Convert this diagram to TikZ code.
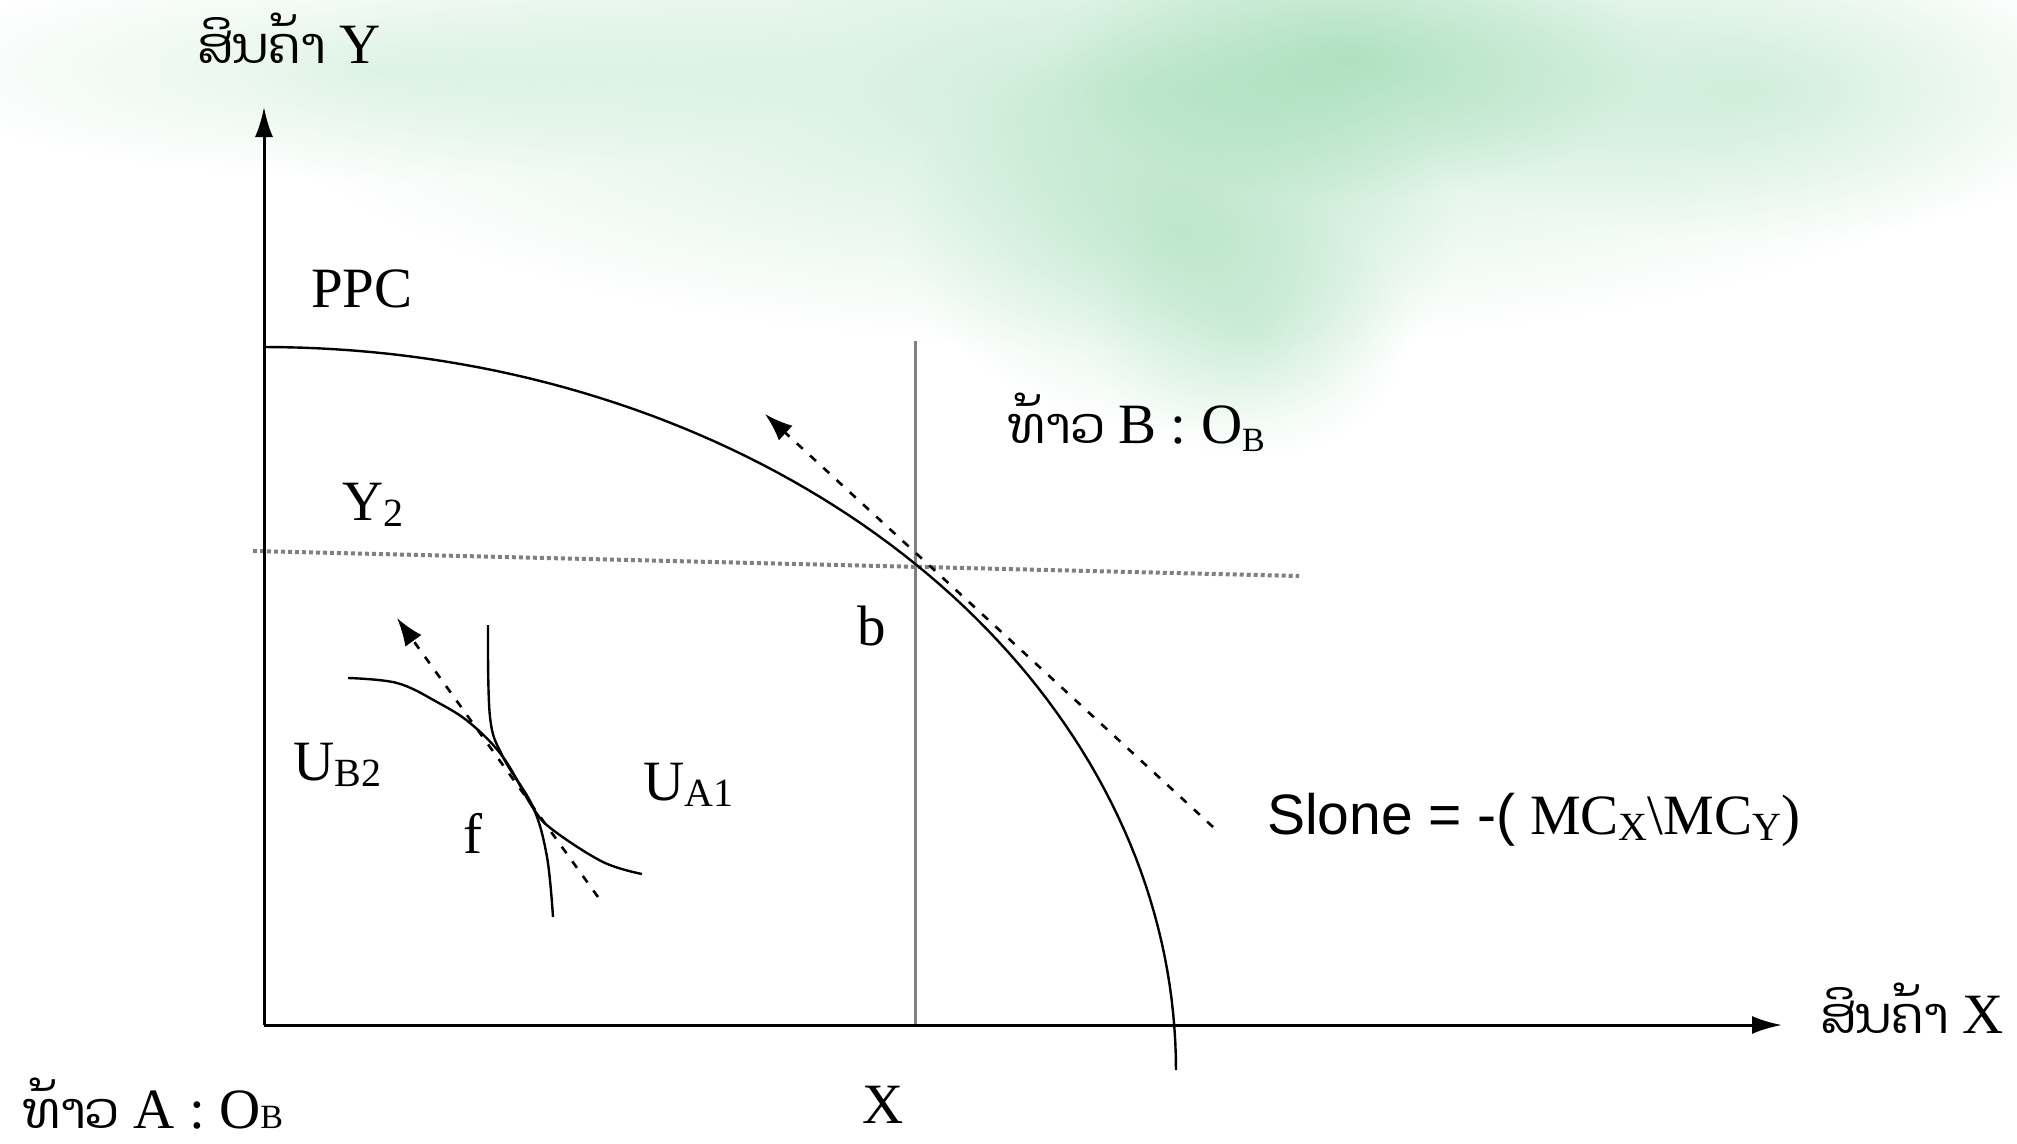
\documentclass[tikz,border=0pt]{standalone}
\usepackage{fontspec}
\setmainfont{Liberation Serif}
\newfontfamily\laofont[Script=Lao,Scale=0.88]{Dhyana}
\newfontfamily\sansfnt{Liberation Sans}
\usetikzlibrary{arrows.meta,fadings}
\tikzfading[name=blobfade, inner color=transparent!0, outer color=transparent!100]
\definecolor{wash}{RGB}{140,212,165}
\definecolor{guide}{RGB}{128,128,128}
\newcommand{\sbs}[1]{\raisebox{-6pt}{\fontsize{40}{40}\selectfont #1}}
\newcommand{\sbo}[1]{{\fontsize{34}{34}\selectfont #1}}
\begin{document}
\begin{tikzpicture}[x=1pt,y=-1pt,
  lbl/.style={inner sep=0pt, anchor=base west, font=\fontsize{57}{60}\selectfont},
  axis/.style={line width=3pt, -{Latex[length=30pt,width=18pt]}},
  curve/.style={line width=2.4pt},
  guideline/.style={guide, line width=3pt},
  dotline/.style={guide, line width=4pt, dash pattern=on 4pt off 3pt},
  dasharrow/.style={line width=2.6pt, dash pattern=on 8pt off 10pt, -{Latex[length=28pt,width=20pt]}}]
\useasboundingbox (0,0) rectangle (2017,1143);
% background wash
\fill[wash, opacity=0.45, path fading=blobfade] (1150,90) ellipse [x radius=900pt, y radius=260pt];
\fill[wash, opacity=0.55, path fading=blobfade] (1350,60) ellipse [x radius=300pt, y radius=140pt];
\fill[wash, opacity=0.45, path fading=blobfade] (1180,230) ellipse [x radius=280pt, y radius=200pt];
\fill[wash, opacity=0.3, path fading=blobfade] (1250,330) ellipse [x radius=160pt, y radius=130pt];
\fill[wash, opacity=0.25, path fading=blobfade] (380,70) ellipse [x radius=480pt, y radius=110pt];
\fill[wash, opacity=0.3, path fading=blobfade] (1750,90) ellipse [x radius=380pt, y radius=150pt];
% coordinates
\coordinate (O) at (264,1025);
\coordinate (Ytip) at (264,107);
\coordinate (Xtip) at (1782,1025);
\coordinate (vtop) at (915,341);
\coordinate (vbot) at (915,1025);
\coordinate (hl) at (253,551);
\coordinate (hr) at (1299,576);
\coordinate (tanA) at (1213,827);
\coordinate (tanB) at (765,414);
\coordinate (smA) at (598,897);
\coordinate (smB) at (397,618);
% guide lines
\draw[guideline] (vtop) -- (vbot);
\draw[dotline] (hl) -- (hr);
% axes
\draw[axis] (O) -- (Ytip);
\draw[axis] (O) -- (Xtip);
% PPC
\draw[curve] plot[domain=-90:0, samples=80, variable=\t] ({264+912*cos(\t)},{1070+723*sin(\t)});
% indifference curves
\draw[curve] plot[smooth, tension=0.6] coordinates {(348,678) (397,683) (437,702) (470,723) (503,757) (533,808) (553,830) (603,862) (642,874)};
\draw[curve] plot[smooth, tension=0.6] coordinates {(488,625) (490,717) (503,757) (533,807) (547,857) (553,917)};
% tangents
\draw[dasharrow] (tanA) -- (tanB);
\draw[dasharrow] (smA) -- (smB);
% labels
\node[lbl] (ly) at (197,63) {{\laofont ສິນຄ້າ} Y};
\node[lbl] (lx) at (1820,1033) {{\laofont ສິນຄ້າ} X};
\node[lbl] (lb) at (1008,443) {{\laofont ທ້າວ} B : O\raisebox{-8pt}{\sbo{B}}};
\node[lbl] (la) at (23,1128) {{\laofont ທ້າວ} A : O\sbo{B}};
\node[lbl] (ppc) at (311,307) {PPC};
\node[lbl] (y2) at (342,520) {Y\sbs{2}};
\node[lbl] (bb) at (857,645) {b};
\node[lbl] (ff) at (463,853) {f};
\node[lbl] (ub) at (293,780) {U\sbs{B2}};
\node[lbl] (ua) at (643,800) {U\sbs{A1}};
\node[lbl] (xx) at (862,1123) {X};
\node[lbl] (sl) at (1267,834) {{\sansfnt Slone = -(} MC\sbs{X}\textbackslash MC\sbs{Y})};
\end{tikzpicture}
\end{document}
